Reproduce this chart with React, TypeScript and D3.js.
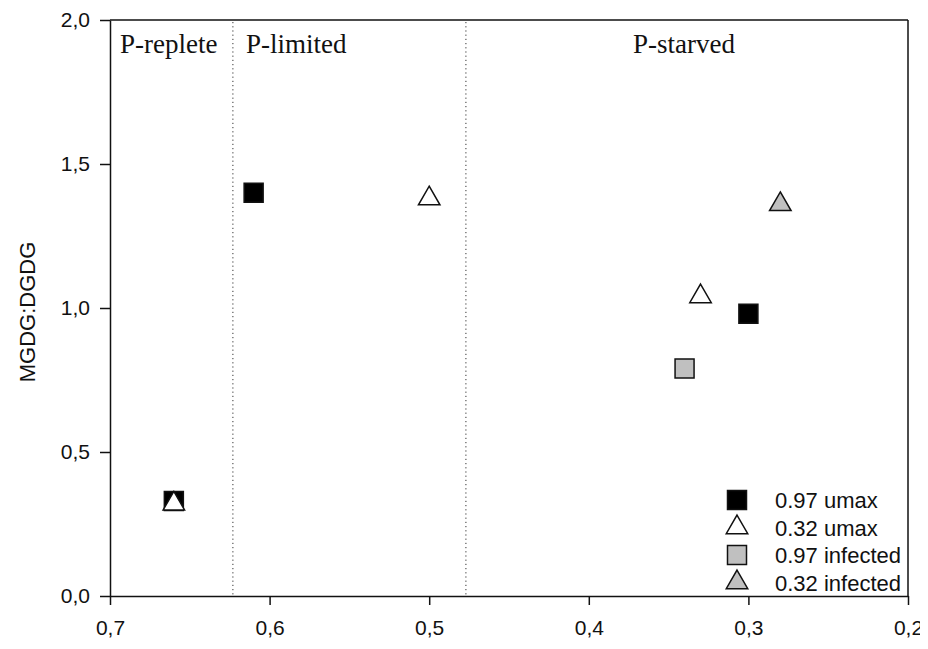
import React, { useRef, useEffect } from "react";
import * as d3 from "d3";

// series values (x = growth / P status, y = MGDG:DGDG ratio)
const umax97 = [
  { x: 0.66, y: 0.33 },
  { x: 0.61, y: 1.4 },
  { x: 0.3, y: 0.98 },
];
const umax32 = [
  { x: 0.66, y: 0.32 },
  { x: 0.5, y: 1.38 },
  { x: 0.33, y: 1.04 },
];
const infected97 = [{ x: 0.34, y: 0.79 }];
const infected32 = [{ x: 0.28, y: 1.36 }];

const xTicks = [0.7, 0.6, 0.5, 0.4, 0.3, 0.2];
const yTicks = [0, 0.5, 1.0, 1.5, 2.0];
const boundaries = [0.623, 0.477];
const regionLabels = ["P-replete", "P-limited", "P-starved"];
const regionStarts = [0.7, 0.623, 0.477];
const legendLabels = ["0.97 umax", "0.32 umax", "0.97 infected", "0.32 infected"];

const W = 928;
const H = 649;

export default function App() {
  const svgRef = useRef<SVGSVGElement>(null);

  useEffect(() => {
    drawChart();
  }, []);

  function drawChart() {
    const svg = d3.select(svgRef.current);
    svg.selectAll("*").remove();

    const left = 110, right = 908, top = 20, bottom = 596;
    const sans = "'Liberation Sans', Arial, sans-serif";

    const xScale = d3.scaleLinear().domain([0.7, 0.2]).range([left, right]);
    const yScale = d3.scaleLinear().domain([0, 2]).range([bottom, top]);

    const fmt = d3
      .formatLocale({ decimal: ",", thousands: ".", grouping: [3], currency: ["", ""] })
      .format(".1f");

    // axes
    const xAxis = svg
      .append("g")
      .attr("transform", `translate(0,${bottom})`)
      .call(d3.axisBottom(xScale).tickValues(xTicks).tickFormat((d) => fmt(d as number)).tickSize(9).tickSizeOuter(0).tickPadding(15));
    const yAxis = svg
      .append("g")
      .attr("transform", `translate(${left},0)`)
      .call(d3.axisLeft(yScale).tickValues(yTicks).tickFormat((d) => fmt(d as number)).tickSize(10).tickSizeOuter(0).tickPadding(10));

    [xAxis, yAxis].forEach((g) => {
      g.selectAll("path").attr("stroke", "#111").attr("stroke-width", 1.5);
      g.selectAll("line").attr("stroke", "#111").attr("stroke-width", 1.5);
      g.selectAll("text")
        .attr("font-family", sans)
        .attr("font-size", 21)
        .attr("fill", "#111");
    });

    // top and right frame
    svg.append("line").attr("x1", left).attr("x2", right).attr("y1", top).attr("y2", top)
      .attr("stroke", "#111").attr("stroke-width", 1.5);
    svg.append("line").attr("x1", right).attr("x2", right).attr("y1", top).attr("y2", bottom)
      .attr("stroke", "#111").attr("stroke-width", 1.5);

    // region boundaries
    svg.selectAll(".boundary")
      .data(boundaries)
      .enter()
      .append("line")
      .attr("x1", (d) => xScale(d))
      .attr("x2", (d) => xScale(d))
      .attr("y1", top + 2)
      .attr("y2", bottom)
      .attr("stroke", "#333")
      .attr("stroke-width", 1)
      .attr("stroke-dasharray", "1.2,3");

    svg.selectAll(".region")
      .data(regionLabels)
      .enter()
      .append("text")
      .attr("x", (d, i) => xScale(regionStarts[i]) + [10, 13, 167][i])
      .attr("y", 53)
      .attr("font-family", "'Liberation Serif', 'Times New Roman', serif")
      .attr("font-size", 27)
      .attr("fill", "#111")
      .text((d) => d);

    // y label
    svg.append("text")
      .attr("transform", `translate(35,312) rotate(-90)`)
      .attr("text-anchor", "middle")
      .attr("font-family", sans)
      .attr("font-size", 22)
      .attr("fill", "#111")
      .text("MGDG:DGDG");

    const sq = d3.symbol().type(d3.symbolSquare).size(19 * 19);
    const tri = d3.symbol().type(d3.symbolTriangle).size(200);

    const drawSeries = (data, sym, fill) => {
      svg.append("g")
        .selectAll("path")
        .data(data)
        .enter()
        .append("path")
        .attr("d", sym)
        .attr("transform", (d) => `translate(${xScale(d.x)},${yScale(d.y)})`)
        .attr("fill", fill)
        .attr("stroke", "#111")
        .attr("stroke-width", 1.5);
    };

    drawSeries(umax97, sq, "#000");
    drawSeries(infected97, sq, "#c0c0c0");
    drawSeries(infected32, tri, "#c0c0c0");
    drawSeries(umax32, tri, "#fff");

    // legend
    const legendItems = [
      { sym: sq, fill: "#000" },
      { sym: tri, fill: "#fff" },
      { sym: sq, fill: "#c0c0c0" },
      { sym: tri, fill: "#c0c0c0" },
    ];
    const lg = svg.append("g");
    legendItems.forEach((it, i) => {
      const cy = 500 + i * 27.5;
      lg.append("path")
        .attr("d", it.sym)
        .attr("transform", `translate(737,${cy})`)
        .attr("fill", it.fill)
        .attr("stroke", "#111")
        .attr("stroke-width", 1.5);
      lg.append("text")
        .attr("x", 775)
        .attr("y", cy + 8)
        .attr("font-family", sans)
        .attr("font-size", 22)
        .attr("fill", "#111")
        .text(legendLabels[i]);
    });
  }

  return (
    <div style={{ margin: -8 }}>
      <svg ref={svgRef} width={W} height={H} style={{ display: "block", background: "#fff" }} />
    </div>
  );
}
